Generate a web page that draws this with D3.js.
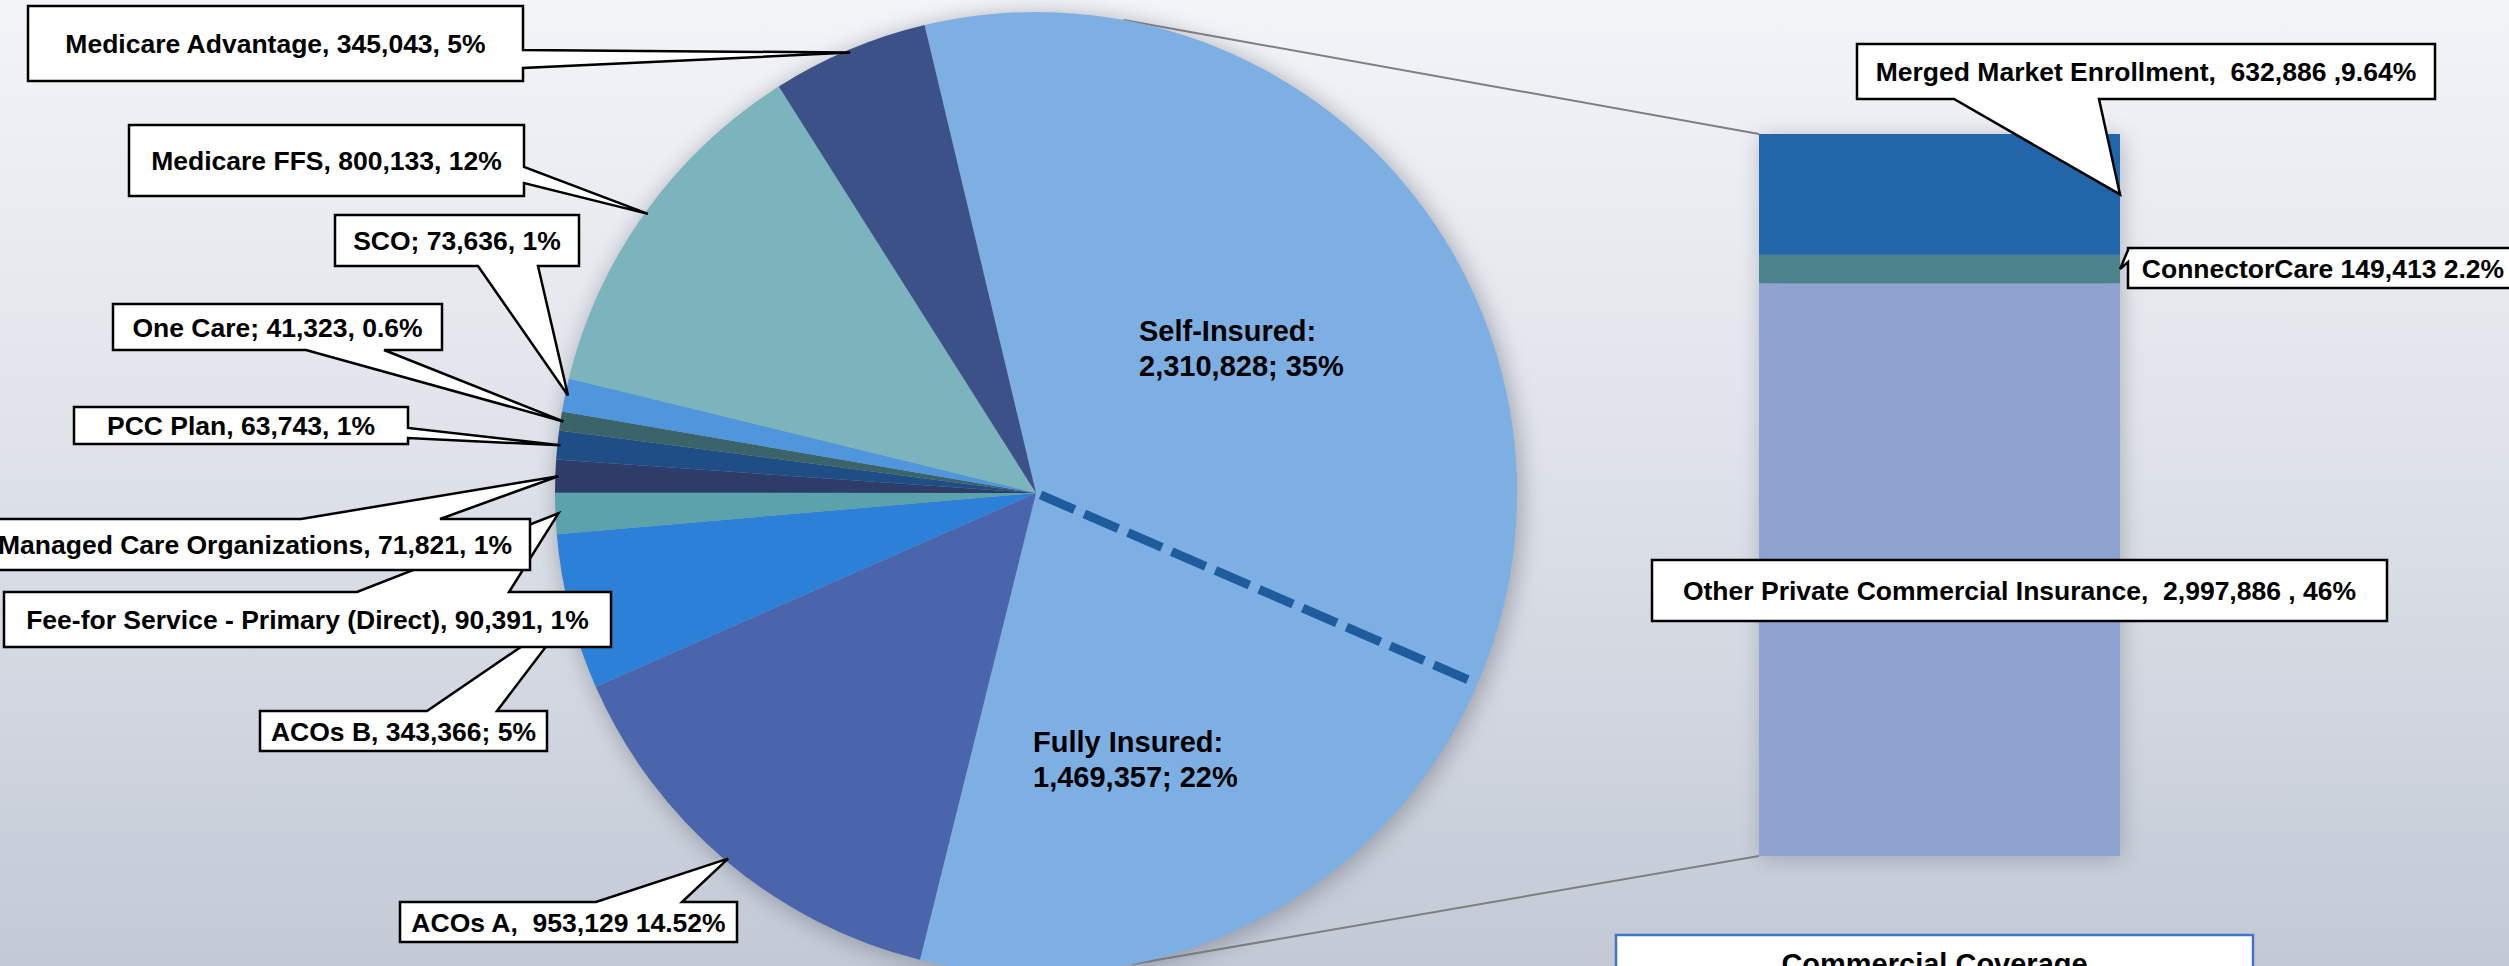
<!DOCTYPE html>
<html>
<head>
<meta charset="utf-8">
<script src="https://cdn.jsdelivr.net/npm/d3@7"></script>
<style>
  html, body { margin: 0; padding: 0; overflow: hidden; }
  svg { display: block; }
  text { font-family: "Liberation Sans", Arial, sans-serif; font-weight: bold; white-space: pre; }
</style>
</head>
<body>
<svg id="chart"></svg>
<script>
// coverage pie (clockwise from Self-Insured)
var pieNames = ["Self-Insured", "Fully Insured", "ACOs A", "ACOs B",
  "Fee-for Service - Primary (Direct)", "Managed Care Organizations", "PCC Plan",
  "One Care", "SCO", "Medicare FFS", "Medicare Advantage"];
var pieValues = [2310828, 1469357, 953129, 343366, 90391, 71821, 63743, 41323, 73636, 800133, 345043];
var pieLabels = [
  ["Self-Insured:", "2,310,828; 35%"],
  ["Fully Insured:", "1,469,357; 22%"],
  "ACOs A,  953,129 14.52%",
  "ACOs B, 343,366; 5%",
  "Fee-for Service - Primary (Direct), 90,391, 1%",
  "Managed Care Organizations, 71,821, 1%",
  "PCC Plan, 63,743, 1%",
  "One Care; 41,323, 0.6%",
  "SCO; 73,636, 1%",
  "Medicare FFS, 800,133, 12%",
  "Medicare Advantage, 345,043, 5%"
];
var pieColors = ["#7eafe3", "#7eafe3", "#4a65ac", "#2d80d7", "#5ba2ad", "#2e3c68",
  "#1f4d85", "#3a6469", "#4f96dc", "#7bb4bc", "#3d5189"];

// commercial bar (bottom to top)
var barNames = ["Other Private Commercial Insurance", "ConnectorCare", "Merged Market Enrollment"];
var barValues = [2997886, 149413, 632886];
var barLabels = ["Other Private Commercial Insurance,  2,997,886 , 46%",
  "ConnectorCare 149,413 2.2%",
  "Merged Market Enrollment,  632,886 ,9.64%"];
var barColors = ["#8fa3d1", "#4a838c", "#2266aa"];
var barTitle = "Commercial Coverage";

var WIDTH = 2509, HEIGHT = 966;
var CX = 1036, CY = 493, R = 481;
var rad = Math.PI / 180;
var START = -13.4 * rad;

// callout boxes: [x, y, w, h], side of the wedge, wedge base offsets along that side
var pieCallouts = {
  2:  { box: [400, 902, 337, 40], side: "top", base: [196, 282] },
  3:  { box: [260, 711, 287, 40], side: "top", base: [167, 237] },
  4:  { box: [4, 592, 607, 55], side: "top", base: [353, 505] },
  5:  { box: [-20, 519, 550, 51], side: "top", base: [321, 460] },
  6:  { box: [74, 407, 334, 37], side: "right", base: [21, 31] },
  7:  { box: [113, 304, 329, 46], side: "bottom", base: [193, 271] },
  8:  { box: [335, 215, 244, 51], side: "bottom", base: [143, 203] },
  9:  { box: [129, 125, 395, 71], side: "right", base: [42, 58] },
  10: { box: [28, 6, 495, 75], side: "right", base: [44, 62] }
};
var barCallouts = {
  0: { box: [1652, 560, 735, 61], side: null },
  1: { box: [2128, 248, 390, 40], side: "left", base: [2, 14] },
  2: { box: [1857, 44, 578, 55], side: "bottom", base: [97, 242] }
};

var svg = d3.select("#chart").attr("width", WIDTH).attr("height", HEIGHT);
var defs = svg.append("defs");

var grad = defs.append("linearGradient").attr("id", "bg")
  .attr("x1", 0).attr("y1", 0).attr("x2", 0).attr("y2", 1);
grad.append("stop").attr("offset", "0%").attr("stop-color", "#f3f4f8");
grad.append("stop").attr("offset", "45%").attr("stop-color", "#e0e3ea");
grad.append("stop").attr("offset", "100%").attr("stop-color", "#c3cad6");

var shadow = defs.append("filter").attr("id", "shadow")
  .attr("x", "-20%").attr("y", "-20%").attr("width", "140%").attr("height", "140%");
shadow.append("feGaussianBlur").attr("in", "SourceGraphic").attr("stdDeviation", 11);

svg.append("rect").attr("width", WIDTH).attr("height", HEIGHT).attr("fill", "url(#bg)");

// ---- bar scales
var barX0 = 1759, barX1 = 2120;
var barTotal = d3.sum(barValues);
var yScale = d3.scaleLinear().domain([0, barTotal]).range([856, 134]);
var cum = 0;
var barData = barValues.map(function (v, i) {
  var d = { i: i, y0: cum, y1: cum + v };
  cum += v;
  return d;
});

// ---- connector lines from pie to bar
function piePoint(deg, r) {
  var a = deg * rad;
  return [CX + r * Math.sin(a), CY - r * Math.cos(a)];
}
var pTop = piePoint(10.5, R), pBot = piePoint(168.5, R);
svg.append("line")
  .attr("x1", pTop[0]).attr("y1", pTop[1]).attr("x2", barX0).attr("y2", yScale(barTotal))
  .attr("stroke", "#7f7f7f").attr("stroke-width", 2);
svg.append("line")
  .attr("x1", pBot[0]).attr("y1", pBot[1]).attr("x2", barX0).attr("y2", yScale(0))
  .attr("stroke", "#7f7f7f").attr("stroke-width", 2);

// ---- pie
var pie = d3.pie().sort(null).value(function (d) { return d; })
  .startAngle(START).endAngle(START + 2 * Math.PI);
var arcs = pie(pieValues);
var arc = d3.arc().innerRadius(0).outerRadius(R);

var pieG = svg.append("g").attr("transform", "translate(" + CX + "," + CY + ")");
pieG.append("circle").attr("cx", 3).attr("cy", 4).attr("r", R + 2)
  .attr("fill", "#6f7480").attr("opacity", 0.55).attr("filter", "url(#shadow)");
pieG.selectAll("path.slice").data(arcs).enter().append("path")
  .attr("class", "slice")
  .attr("d", arc)
  .attr("fill", function (d, i) { return pieColors[i]; });

// dashed split between self-insured and fully insured
var splitA = arcs[0].endAngle;
pieG.append("line")
  .attr("x1", 5 * Math.sin(splitA)).attr("y1", -5 * Math.cos(splitA))
  .attr("x2", (R - 6) * Math.sin(splitA)).attr("y2", -(R - 6) * Math.cos(splitA))
  .attr("stroke", "#1f5c9e").attr("stroke-width", 9).attr("stroke-dasharray", "37,10.6");

// in-slice labels
var inLabelPos = { 0: [1139, 341], 1: [1033, 752] };
[0, 1].forEach(function (i) {
  var t = svg.append("text")
    .attr("x", inLabelPos[i][0]).attr("y", inLabelPos[i][1])
    .attr("font-size", 29).attr("fill", "#000");
  pieLabels[i].forEach(function (line, k) {
    t.append("tspan").attr("x", inLabelPos[i][0]).attr("dy", k === 0 ? 0 : 34.5).text(line);
  });
});

// ---- bar
var barG = svg.append("g");
barG.append("rect")
  .attr("x", barX0 + 2).attr("y", yScale(barTotal) + 3)
  .attr("width", barX1 - barX0).attr("height", yScale(0) - yScale(barTotal))
  .attr("fill", "#6f7480").attr("opacity", 0.45).attr("filter", "url(#shadow)");
barG.selectAll("rect.seg").data(barData).enter().append("rect")
  .attr("class", "seg")
  .attr("x", barX0).attr("width", barX1 - barX0)
  .attr("y", function (d) { return yScale(d.y1); })
  .attr("height", function (d) { return yScale(d.y0) - yScale(d.y1); })
  .attr("fill", function (d) { return barColors[d.i]; });

// ---- callouts
function calloutPath(c, tip) {
  var x0 = c.box[0], y0 = c.box[1], x1 = x0 + c.box[2], y1 = y0 + c.box[3];
  var a = c.base ? c.base[0] : 0, b = c.base ? c.base[1] : 0;
  var p = d3.path();
  p.moveTo(x0, y0);
  if (c.side === "top") { p.lineTo(x0 + a, y0); p.lineTo(tip[0], tip[1]); p.lineTo(x0 + b, y0); }
  p.lineTo(x1, y0);
  if (c.side === "right") { p.lineTo(x1, y0 + a); p.lineTo(tip[0], tip[1]); p.lineTo(x1, y0 + b); }
  p.lineTo(x1, y1);
  if (c.side === "bottom") { p.lineTo(x0 + b, y1); p.lineTo(tip[0], tip[1]); p.lineTo(x0 + a, y1); }
  p.lineTo(x0, y1);
  if (c.side === "left") { p.lineTo(x0, y0 + b); p.lineTo(tip[0], tip[1]); p.lineTo(x0, y0 + a); }
  p.closePath();
  return p.toString();
}

function drawCallout(c, tip, label) {
  var g = svg.append("g");
  g.append("path").attr("d", calloutPath(c, tip))
    .attr("fill", "#fff").attr("stroke", "#000").attr("stroke-width", 2.5)
    .attr("stroke-linejoin", "miter");
  g.append("text")
    .attr("x", c.box[0] + c.box[2] / 2).attr("y", c.box[1] + c.box[3] / 2)
    .attr("dy", "0.36em").attr("text-anchor", "middle")
    .attr("font-size", 26.5).attr("fill", "#000")
    .text(label);
}

for (var i = 2; i < arcs.length; i++) {
  var d = arcs[i];
  var mid = (d.startAngle + d.endAngle) / 2;
  var tip = [CX + (R - 3) * Math.sin(mid), CY - (R - 3) * Math.cos(mid)];
  drawCallout(pieCallouts[i], tip, pieLabels[i]);
}
barData.forEach(function (d) {
  var tip = [barX1, (yScale(d.y0) + yScale(d.y1)) / 2];
  drawCallout(barCallouts[d.i], tip, barLabels[d.i]);
});

// ---- commercial coverage title box
svg.append("rect").attr("x", 1616).attr("y", 935).attr("width", 637).attr("height", 60)
  .attr("fill", "#fff").attr("stroke", "#4472c4").attr("stroke-width", 2.5);
svg.append("text").attr("x", 1934.5).attr("y", 974).attr("text-anchor", "middle")
  .attr("font-size", 29).attr("fill", "#000").text(barTitle);
</script>
</body>
</html>
